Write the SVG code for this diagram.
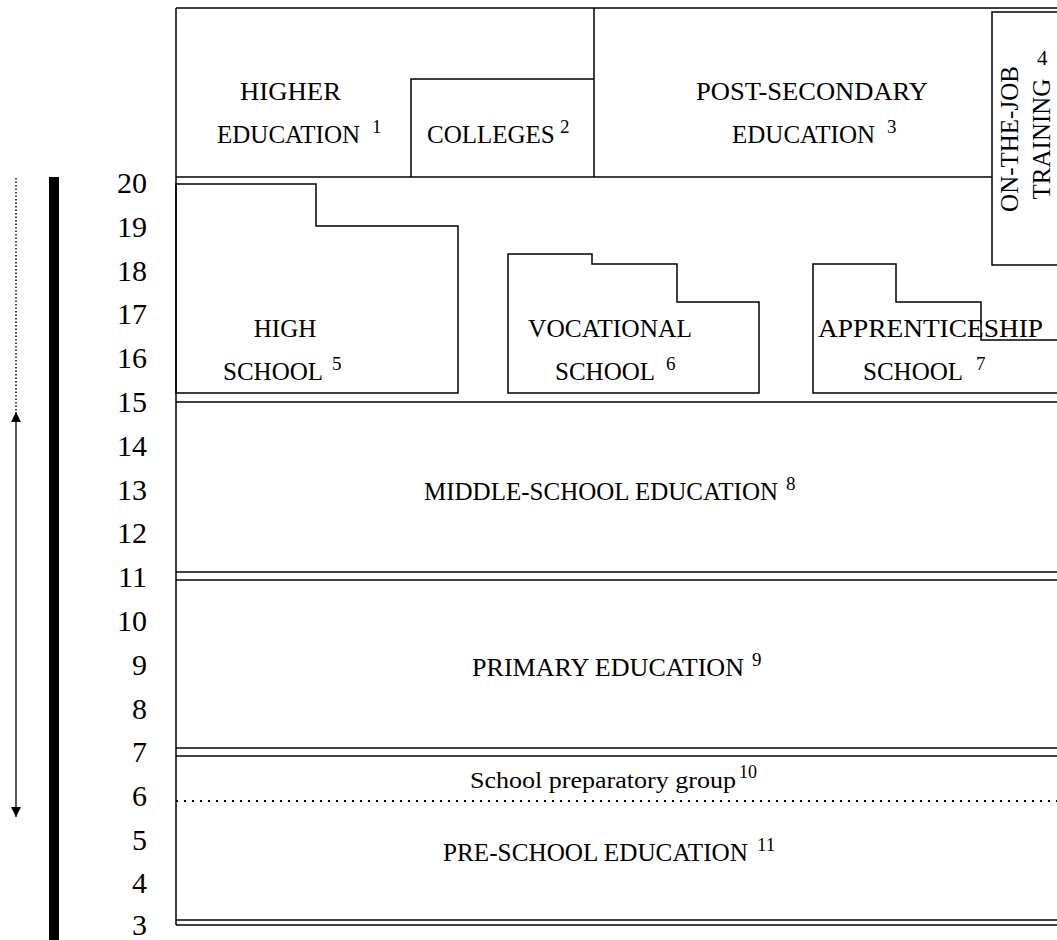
<svg xmlns="http://www.w3.org/2000/svg" width="1057" height="940" viewBox="0 0 1057 940">
<style>
.ln{fill:none;stroke:#000;stroke-width:1.5}
.lb{font-family:"Liberation Serif","Times New Roman",serif;font-size:25px;fill:#000}
.sup{font-family:"Liberation Serif","Times New Roman",serif;font-size:19px;fill:#000}
.num{font-family:"Liberation Serif","Times New Roman",serif;font-size:30px;fill:#000;text-anchor:end}
</style>
<defs>
<marker id="ah" viewBox="0 0 10 10" refX="10" refY="5" markerWidth="10" markerHeight="10" markerUnits="userSpaceOnUse" orient="auto">
<path d="M0,0 L10,5 L0,10 Z" fill="#000"/>
</marker>
</defs>
<rect width="1057" height="940" fill="#fff"/>
<g id="scale">
<rect x="49" y="177" width="10" height="763" fill="#000"/>
<line x1="16" y1="178" x2="16" y2="415" stroke="#000" stroke-width="1.5" stroke-dasharray="1.5,2"/>
<line x1="16" y1="600" x2="16" y2="412" stroke="#000" stroke-width="1.3" marker-end="url(#ah)"/>
<line x1="16" y1="600" x2="16" y2="817" stroke="#000" stroke-width="1.3" marker-end="url(#ah)"/>
<text class="num" x="147" y="193">20</text>
<text class="num" x="147" y="237">19</text>
<text class="num" x="147" y="281">18</text>
<text class="num" x="147" y="324">17</text>
<text class="num" x="147" y="368">16</text>
<text class="num" x="147" y="412">15</text>
<text class="num" x="147" y="456">14</text>
<text class="num" x="147" y="500">13</text>
<text class="num" x="147" y="543">12</text>
<text class="num" x="147" y="587">11</text>
<text class="num" x="147" y="631">10</text>
<text class="num" x="147" y="675">9</text>
<text class="num" x="147" y="719">8</text>
<text class="num" x="147" y="762">7</text>
<text class="num" x="147" y="806">6</text>
<text class="num" x="147" y="850">5</text>
<text class="num" x="147" y="893">4</text>
<text class="num" x="147" y="935">3</text>
</g>
<g id="frame">
<line class="ln" x1="176" y1="8" x2="176" y2="925"/>
<line class="ln" x1="176" y1="8" x2="1057" y2="8"/>
</g>
<g id="higher-education">
<line class="ln" x1="176" y1="177" x2="992" y2="177"/>
<text class="lb" x="240" y="100" textLength="101" lengthAdjust="spacingAndGlyphs">HIGHER</text>
<text class="lb" x="217" y="143">EDUCATION</text>
<text class="sup" x="372" y="133">1</text>
</g>
<g id="colleges">
<polyline class="ln" points="411,177 411,79 594,79"/>
<text class="lb" x="427" y="143">COLLEGES</text>
<text class="sup" x="560" y="133">2</text>
</g>
<g id="post-secondary">
<line class="ln" x1="594" y1="8" x2="594" y2="177"/>
<text class="lb" x="696" y="100" textLength="232" lengthAdjust="spacingAndGlyphs">POST-SECONDARY</text>
<text class="lb" x="732" y="143">EDUCATION</text>
<text class="sup" x="887" y="133">3</text>
</g>
<g id="on-the-job">
<rect class="ln" x="992" y="12" width="80" height="253"/>
<text class="lb" transform="translate(1018,139) rotate(-90)" text-anchor="middle">ON-THE-JOB</text>
<text class="lb" transform="translate(1050,139) rotate(-90)" text-anchor="middle">TRAINING</text>
<text class="sup" x="1037" y="65" style="font-size:21px">4</text>
</g>
<g id="high-school">
<polygon class="ln" points="176,184 316,184 316,226 458,226 458,393 176,393"/>
<text class="lb" x="285" y="337" text-anchor="middle">HIGH</text>
<text class="lb" x="223" y="380">SCHOOL</text>
<text class="sup" x="332" y="370">5</text>
</g>
<g id="vocational-school">
<polygon class="ln" points="508,254 592,254 592,264 677,264 677,302 759,302 759,393 508,393"/>
<text class="lb" x="528" y="337" textLength="164" lengthAdjust="spacingAndGlyphs">VOCATIONAL</text>
<text class="lb" x="555" y="380">SCHOOL</text>
<text class="sup" x="666" y="370">6</text>
</g>
<g id="apprenticeship-school">
<polyline class="ln" points="1060,393 813,393 813,264 896,264 896,302 981,302 981,340 1060,340"/>
<text class="lb" x="818" y="337" textLength="225" lengthAdjust="spacingAndGlyphs">APPRENTICESHIP</text>
<text class="lb" x="863" y="380">SCHOOL</text>
<text class="sup" x="976" y="370">7</text>
</g>
<g id="middle-school">
<line class="ln" x1="176" y1="402" x2="1057" y2="402"/>
<line class="ln" x1="176" y1="572" x2="1057" y2="572"/>
<text class="lb" x="424" y="500" textLength="354" lengthAdjust="spacingAndGlyphs">MIDDLE-SCHOOL EDUCATION</text>
<text class="sup" x="786" y="490">8</text>
</g>
<g id="primary">
<line class="ln" x1="176" y1="580" x2="1057" y2="580"/>
<line class="ln" x1="176" y1="748" x2="1057" y2="748"/>
<text class="lb" x="472" y="676" textLength="272" lengthAdjust="spacingAndGlyphs">PRIMARY EDUCATION</text>
<text class="sup" x="752" y="666">9</text>
</g>
<g id="preparatory-group">
<line class="ln" x1="176" y1="756" x2="1057" y2="756"/>
<line x1="176" y1="801" x2="1057" y2="801" stroke="#000" stroke-width="2" stroke-dasharray="2,6"/>
<text class="lb" x="470" y="788" style="font-size:23px" textLength="266" lengthAdjust="spacingAndGlyphs">School preparatory group</text>
<text class="sup" x="739" y="778" style="font-size:18px">10</text>
</g>
<g id="pre-school">
<line class="ln" x1="176" y1="920" x2="1057" y2="920"/>
<line class="ln" x1="176" y1="925" x2="1057" y2="925"/>
<text class="lb" x="443" y="861" textLength="305" lengthAdjust="spacingAndGlyphs">PRE-SCHOOL EDUCATION</text>
<text class="sup" x="757" y="851">11</text>
</g>
</svg>
